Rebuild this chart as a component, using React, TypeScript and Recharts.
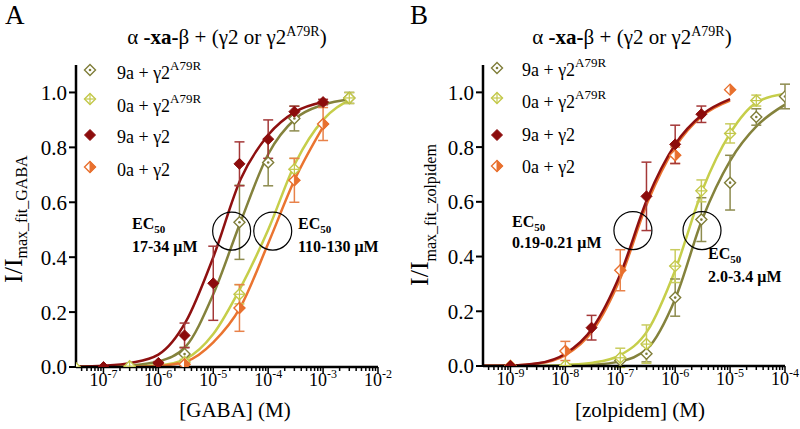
import React from "react";
import {
  ComposedChart,
  Line,
  Scatter,
  XAxis,
  YAxis,
  ErrorBar,
  ReferenceDot,
} from "recharts";

const FONT = "Liberation Serif";

const RED = "#8c0c0c";
const ORANGE = "#e8702e";
const OLIVE = "#7f7d38";
const YELLOW = "#c3c84a";

type Kind = "olive" | "yellow" | "red" | "half";

// ---------- Panel A : GABA ----------
const GABA_X_9A_MUT = [3e-7, 3e-6, 3e-5, 1e-4, 3e-4, 3e-3];
const GABA_Y_9A_MUT = [0.0, 0.047, 0.527, 0.745, 0.905, 0.98];
const GABA_E_9A_MUT = [0, 0.025, 0.135, 0.085, 0.045, 0.02];

const GABA_X_0A_MUT = [3e-8, 3e-7, 3e-6, 3e-5, 3e-4, 3e-3];
const GABA_Y_0A_MUT = [0.0, 0.003, 0.018, 0.265, 0.72, 0.98];
const GABA_E_0A_MUT = [0, 0, 0.01, 0.035, 0.04, 0.02];

const GABA_X_9A_WT = [1e-7, 1e-6, 3e-6, 1e-5, 3e-5, 1e-4, 3e-4, 1e-3];
const GABA_Y_9A_WT = [0.0, 0.015, 0.115, 0.305, 0.74, 0.83, 0.93, 0.965];
const GABA_E_9A_WT = [0, 0.005, 0.045, 0.135, 0.08, 0.07, 0.02, 0.01];

const GABA_X_0A_WT = [3e-6, 3e-5, 3e-4, 1e-3];
const GABA_Y_0A_WT = [0.01, 0.215, 0.68, 0.885];
const GABA_E_0A_WT = [0, 0.085, 0.08, 0.06];

const GABA_FIT_X = [3.1623e-8, 1e-7, 3.1623e-7, 1e-6, 3.1623e-6, 1e-5, 3.1623e-5, 1e-4, 3.1623e-4, 1e-3, 3.1623e-3];
const GABA_FIT_9A_MUT = [0.001, 0.002, 0.006, 0.02, 0.075, 0.265, 0.53, 0.775, 0.905, 0.955, 0.975];
const GABA_FIT_0A_MUT = [0, 0.001, 0.002, 0.006, 0.03, 0.12, 0.29, 0.5, 0.745, 0.9, 0.975];
const GABA_FIT_9A_WT = [0.002, 0.005, 0.015, 0.045, 0.165, 0.4, 0.685, 0.845, 0.93, 0.965];
const GABA_FIT_0A_WT = [0, 0, 0.001, 0.004, 0.02, 0.09, 0.22, 0.45, 0.69, 0.875];

const GABA_MAJORS = [-7, -6, -5, -4, -3, -2];
const GABA_EC50_MARKS = [2.16e-5, 1.21e-4];

// ---------- Panel B : zolpidem ----------
const ZOL_X_9A_MUT = [1e-8, 1e-7, 3e-7, 1e-6, 3e-6, 1e-5, 3e-5, 1e-4];
const ZOL_Y_9A_MUT = [0.0, 0.02, 0.045, 0.25, 0.535, 0.67, 0.91, 0.985];
const ZOL_E_9A_MUT = [0, 0, 0.03, 0.068, 0.08, 0.1, 0.03, 0.045];

const ZOL_X_0A_MUT = [1e-9, 1e-8, 1e-7, 3e-7, 1e-6, 3e-6, 1e-5, 3e-5];
const ZOL_Y_0A_MUT = [0.0, 0.002, 0.03, 0.08, 0.365, 0.64, 0.85, 0.97];
const ZOL_E_0A_MUT = [0, 0, 0.035, 0.07, 0.06, 0.04, 0.035, 0.02];

const ZOL_X_9A_WT = [1e-9, 3e-8, 3e-7, 1e-6, 3e-6];
const ZOL_Y_9A_WT = [0.0, 0.14, 0.62, 0.81, 0.92];
const ZOL_E_9A_WT = [0, 0.045, 0.125, 0.07, 0.03];

const ZOL_X_0A_WT = [1e-9, 1e-8, 1e-7, 1e-6, 1e-5];
const ZOL_Y_0A_WT = [0.0, 0.055, 0.35, 0.77, 1.01];
const ZOL_E_0A_WT = [0, 0.035, 0.075, 0.03, 0];

const ZOL_FIT_X = [3.1623e-10, 1e-9, 3.1623e-9, 1e-8, 3.1623e-8, 1e-7, 3.1623e-7, 1e-6, 3.1623e-6, 1e-5, 3.1623e-5, 1e-4];
const ZOL_FIT_9A_MUT = [0, 0, 0, 0.002, 0.005, 0.017, 0.065, 0.245, 0.54, 0.75, 0.88, 0.955];
const ZOL_FIT_0A_MUT = [0, 0, 0, 0.004, 0.012, 0.04, 0.13, 0.35, 0.645, 0.85, 0.965, 0.995];
const ZOL_FIT_9A_WT = [0.001, 0.002, 0.01, 0.045, 0.14, 0.335, 0.615, 0.81, 0.92, 0.975];
const ZOL_FIT_0A_WT = [0.001, 0.002, 0.009, 0.04, 0.13, 0.32, 0.6, 0.8, 0.915, 0.97];

const ZOL_MAJORS = [-9, -8, -7, -6, -5, -4];
const ZOL_EC50_MARKS = [1.7e-7, 3.08e-6];

const Y_TICKS = [0, 0.2, 0.4, 0.6, 0.8, 1.0];
const LEGEND_LABELS = ["9a + γ2", "0a + γ2", "9a + γ2", "0a + γ2"];

const points = (xs: number[], ys: number[], es: number[]) =>
  xs.map((x, i) => ({ x, y: ys[i], err: es[i] > 0 ? es[i] : undefined }));
const curve = (xs: number[], ys: number[]) => ys.map((y, i) => ({ x: xs[i], y }));

const logTicks = (majors: number[], lo: number) => {
  const out: number[] = [];
  for (let e = majors[0] - 1; e <= majors[majors.length - 1]; e++) {
    for (let m = 1; m <= 9; m++) {
      const v = m * Math.pow(10, e);
      if (v >= lo * 0.999 && v <= Math.pow(10, majors[majors.length - 1]) * 1.001) out.push(v);
    }
  }
  return out;
};

function Marker({ kind, cx, cy, r = 5.5 }: { kind: Kind; cx: number; cy: number; r?: number }) {
  if (cx == null || cy == null) return null;
  const pts = `${cx},${cy - r} ${cx + r},${cy} ${cx},${cy + r} ${cx - r},${cy}`;
  if (kind === "olive")
    return (
      <g>
        <polygon points={pts} fill="#fff" stroke={OLIVE} strokeWidth={1.4} />
        <circle cx={cx} cy={cy} r={1.3} fill={OLIVE} />
      </g>
    );
  if (kind === "yellow")
    return (
      <g>
        <polygon points={pts} fill="#fff" stroke={YELLOW} strokeWidth={1.4} />
        <line x1={cx - r} y1={cy} x2={cx + r} y2={cy} stroke={YELLOW} strokeWidth={1.2} />
        <line x1={cx} y1={cy - r} x2={cx} y2={cy + r} stroke={YELLOW} strokeWidth={1.2} />
      </g>
    );
  if (kind === "red") return <polygon points={pts} fill={RED} stroke={RED} strokeWidth={1} />;
  return (
    <g>
      <polygon points={pts} fill="#fff" stroke={ORANGE} strokeWidth={1.4} />
      <polygon points={`${cx},${cy - r} ${cx + r},${cy} ${cx},${cy + r}`} fill={ORANGE} stroke={ORANGE} strokeWidth={1} />
    </g>
  );
}

function LogTick(props: any) {
  const { x, y, payload } = props;
  const v = payload.value as number;
  const lg = Math.log10(v);
  const e = Math.round(lg);
  const major = Math.abs(lg - e) < 1e-6;
  const axisY = y;
  return (
    <g>
      <line x1={x} y1={axisY} x2={x} y2={axisY + (major ? 7 : 4)} stroke="#000" strokeWidth={1.5} />
      {major && (
        <text x={x} y={axisY + 19} textAnchor="middle" fontSize={18} style={{ fontFamily: FONT }} fill="#000">
          10<tspan dy={-8} fontSize={12}>{`-${-e}`}</tspan>
        </text>
      )}
    </g>
  );
}

interface Series {
  kind: Kind;
  data: { x: number; y: number; err?: number }[];
  fit: { x: number; y: number }[];
  color: string;
  errColor: string;
}

function Panel({
  series,
  domain,
  majors,
  ecMarks,
  yAxisWidth,
  right,
  xAxisHeight,
}: {
  series: Series[];
  domain: [number, number];
  majors: number[];
  ecMarks: number[];
  yAxisWidth: number;
  right: number;
  xAxisHeight: number;
}) {
  return (
    <ComposedChart width={400} height={429} margin={{ top: 65, right, bottom: 0, left: 0 }}>
      <XAxis
        dataKey="x"
        type="number"
        scale="log"
        domain={domain}
        allowDataOverflow
        ticks={logTicks(majors, domain[0])}
        interval={0}
        tick={<LogTick />}
        tickLine={false}
        tickSize={0}
        tickMargin={0}
        height={xAxisHeight}
        axisLine={{ stroke: "#000", strokeWidth: 2.5 }}
      />
      <YAxis
        dataKey="y"
        type="number"
        domain={[0, 1.1]}
        ticks={Y_TICKS}
        tickFormatter={(v: number) => v.toFixed(1)}
        width={yAxisWidth}
        tickSize={7}
        tickMargin={2}
        tick={{ fill: "#000", fontSize: 21, fontFamily: FONT }}
        axisLine={{ stroke: "#000", strokeWidth: 2.5 }}
        tickLine={{ stroke: "#000", strokeWidth: 2 }}
        allowDataOverflow
      />
      {series.map((s, i) => (
        <Line
          key={`fit${i}`}
          data={s.fit}
          dataKey="y"
          type="monotone"
          stroke={s.color}
          strokeWidth={2.5}
          dot={false}
          activeDot={false}
          isAnimationActive={false}
        />
      ))}
      {ecMarks.map((x, i) => (
        <ReferenceDot key={`ec${i}`} x={x} y={0.495} r={19} fill="none" stroke="#000" strokeWidth={1.2} />
      ))}
      {series.map((s, i) => (
        <Scatter
          key={`pts${i}`}
          data={s.data}
          dataKey="y"
          isAnimationActive={false}
          shape={(p: any) => <Marker kind={s.kind} cx={p.cx} cy={p.cy} />}
        >
          <ErrorBar dataKey="err" direction="y" width={5} stroke={s.errColor} strokeWidth={1.5} />
        </Scatter>
      ))}
    </ComposedChart>
  );
}

const LEGEND_KINDS: Kind[] = ["olive", "yellow", "red", "half"];

function Legend({ mx, tx, markerY, textY }: { mx: number; tx: number; markerY: number[]; textY: number[] }) {
  return (
    <g>
      {LEGEND_KINDS.map((k, i) => (
        <g key={k}>
          <Marker kind={k} cx={mx} cy={markerY[i]} />
          <text x={tx} y={textY[i]} fontSize={18} fill="#000">
            {LEGEND_LABELS[i]}
            {i < 2 && (
              <tspan dy={-9} fontSize={13}>
                A79R
              </tspan>
            )}
          </text>
        </g>
      ))}
    </g>
  );
}

function Title({ x }: { x: number }) {
  return (
    <text x={x} y={44} textAnchor="middle" fontSize={21} fill="#000">
      α <tspan fontWeight="bold">-xa-</tspan>β + (γ2 or γ2
      <tspan dy={-8} fontSize={14}>
        A79R
      </tspan>
      <tspan dy={8}>)</tspan>
    </text>
  );
}

function EcLabel({ x, y1, y2, range }: { x: number; y1: number; y2: number; range: string }) {
  return (
    <g fontWeight="bold" fill="#000">
      <text x={x} y={y1} fontSize={16}>
        EC<tspan dy={4} fontSize={11}>50</tspan>
      </text>
      <text x={x} y={y2} fontSize={16}>
        {range}
      </text>
    </g>
  );
}

export default function App() {
  const gaba: Series[] = [
    { kind: "olive", data: points(GABA_X_9A_MUT, GABA_Y_9A_MUT, GABA_E_9A_MUT), fit: curve(GABA_FIT_X, GABA_FIT_9A_MUT), color: "#84823c", errColor: "#8d8b4e" },
    { kind: "yellow", data: points(GABA_X_0A_MUT, GABA_Y_0A_MUT, GABA_E_0A_MUT), fit: curve(GABA_FIT_X, GABA_FIT_0A_MUT), color: "#c6ce4a", errColor: "#c9cc5e" },
    { kind: "half", data: points(GABA_X_0A_WT, GABA_Y_0A_WT, GABA_E_0A_WT), fit: curve(GABA_FIT_X, GABA_FIT_0A_WT), color: "#ea7430", errColor: "#e8824a" },
    { kind: "red", data: points(GABA_X_9A_WT, GABA_Y_9A_WT, GABA_E_9A_WT), fit: curve(GABA_FIT_X, GABA_FIT_9A_WT), color: "#8e1010", errColor: "#a43838" },
  ];
  const zol: Series[] = [
    { kind: "olive", data: points(ZOL_X_9A_MUT, ZOL_Y_9A_MUT, ZOL_E_9A_MUT), fit: curve(ZOL_FIT_X, ZOL_FIT_9A_MUT), color: "#84823c", errColor: "#8d8b4e" },
    { kind: "yellow", data: points(ZOL_X_0A_MUT, ZOL_Y_0A_MUT, ZOL_E_0A_MUT), fit: curve(ZOL_FIT_X, ZOL_FIT_0A_MUT), color: "#c6ce4a", errColor: "#c9cc5e" },
    { kind: "half", data: points(ZOL_X_0A_WT, ZOL_Y_0A_WT, ZOL_E_0A_WT), fit: curve(ZOL_FIT_X, ZOL_FIT_0A_WT), color: "#ea7430", errColor: "#e8824a" },
    { kind: "red", data: points(ZOL_X_9A_WT, ZOL_Y_9A_WT, ZOL_E_9A_WT), fit: curve(ZOL_FIT_X, ZOL_FIT_9A_WT), color: "#8e1010", errColor: "#a43838" },
  ];

  return (
    <div style={{ position: "absolute", left: 0, top: 0, width: 800, height: 429, background: "#fff", overflow: "hidden", fontFamily: FONT }}>
      <div style={{ position: "absolute", left: 0, top: 0 }}>
        <Panel series={gaba} domain={[3.1623e-8, 1e-2]} majors={GABA_MAJORS} ecMarks={GABA_EC50_MARKS} yAxisWidth={76} right={22} xAxisHeight={62} />
      </div>
      <div style={{ position: "absolute", left: 400, top: 0 }}>
        <Panel series={zol} domain={[3.1623e-10, 1e-4]} majors={ZOL_MAJORS} ecMarks={ZOL_EC50_MARKS} yAxisWidth={83} right={15} xAxisHeight={63} />
      </div>
      <svg width={800} height={429} style={{ position: "absolute", left: 0, top: 0, pointerEvents: "none", fontFamily: FONT }}>
        <text x={5} y={24} fontSize={27} fill="#000">A</text>
        <text x={410} y={24} fontSize={27} fill="#000">B</text>
        <Title x={227} />
        <Title x={632} />
        <Legend mx={90} tx={117} markerY={[70, 99, 135, 167]} textY={[79, 112, 143, 176]} />
        <Legend mx={497} tx={522} markerY={[68, 98, 135, 166]} textY={[76, 108, 141, 173]} />
        <EcLabel x={132} y1={229} y2={252} range="17-34 μM" />
        <EcLabel x={298} y1={229} y2={252} range="110-130 μM" />
        <EcLabel x={512} y1={227} y2={248} range="0.19-0.21 μM" />
        <EcLabel x={708} y1={259} y2={282} range="2.0-3.4 μM" />
        <text transform="translate(22,283) rotate(-90)" fontSize={26} fill="#000">
          I/I<tspan dy={5} fontSize={16}>max_fit_GABA</tspan>
        </text>
        <text transform="translate(428,286) rotate(-90)" fontSize={26} fill="#000">
          I/I<tspan dy={8} fontSize={16}>max_fit_zolpidem</tspan>
        </text>
        <text x={235} y={417} textAnchor="middle" fontSize={21} fill="#000">[GABA] (M)</text>
        <text x={640} y={417} textAnchor="middle" fontSize={21} fill="#000">[zolpidem] (M)</text>
      </svg>
    </div>
  );
}
